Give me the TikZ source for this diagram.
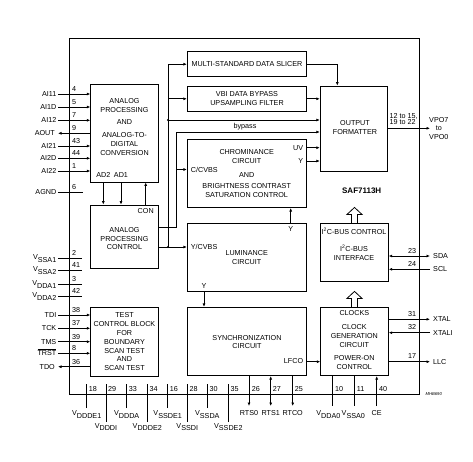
\documentclass[tikz,border=0pt]{standalone}
\usepackage{fontspec}
\setmainfont{Liberation Sans}
\usetikzlibrary{arrows.meta}
\newcommand{\Vsub}[1]{V\raisebox{-2.6pt}{#1}}

\begin{document}
\begin{tikzpicture}[x=1pt,y=-1pt,
  font=\fontsize{7.2}{8.8}\selectfont,
  blk/.style={draw,line width=0.8pt,inner sep=0pt,minimum width=67.6pt},
  wblk/.style={blk,minimum width=119.4pt},
  txt/.style={inner sep=0pt,align=center},
  lbl/.style={inner sep=0pt,anchor=base},
  pnum/.style={inner sep=0pt,anchor=base west},
  sig/.style={line width=0.8pt,-{Latex[length=3.5pt,width=3pt]}},
  dsig/.style={line width=0.8pt,{Latex[length=3.5pt,width=3pt]}-{Latex[length=3.5pt,width=3pt]}},
  wire/.style={line width=0.8pt}]
\useasboundingbox (0,0) rectangle (473,461);
% chip outline
\node[draw,line width=0.8pt,inner sep=0pt,minimum width=350pt,minimum height=356pt] (chip) at (244,216) {};
\node[font=\fontsize{8}{9}\selectfont\bfseries] (type) at (361.7,191) {SAF7113H};
\node[font=\fontsize{4.2}{5}\selectfont\itshape,inner sep=0pt] (code) at (433.7,394.3) {MHB690};
% blocks
\node[blk,minimum height=98pt] (afe) at (124.5,133) {};
\node[blk,minimum height=63pt] (apc) at (124.5,236.5) {};
\node[blk,minimum height=69pt] (tcb) at (124.5,341.5) {};
\node[wblk,minimum height=25pt] (dsl) at (247,64.2) {};
\node[wblk,minimum height=24.3pt] (vbi) at (247,98.8) {};
\node[wblk,minimum height=68.7pt] (chr) at (247,173.3) {};
\node[wblk,minimum height=68.7pt] (lum) at (247,257.3) {};
\node[wblk,minimum height=68.4pt] (syn) at (247,341.5) {};
\node[blk,minimum height=85pt] (ofm) at (354,128.5) {};
\node[blk,minimum height=57.7pt] (i2c) at (354.5,252.2) {};
\node[blk,minimum height=68.4pt] (clk) at (354.5,341.5) {};
% block texts
\node[txt] (tafe) at (124.5,126.8) {ANALOG\\PROCESSING\\[3.2pt]AND\\[4.6pt]ANALOG-TO-\\DIGITAL\\CONVERSION};
\node[lbl] (tad2) at (103.3,177.7) {AD2};
\node[lbl] (tad1) at (121,177.7) {AD1};
\node[lbl] (tcon) at (145.7,213.3) {CON};
\node[txt] (tapc) at (124.5,238.7) {ANALOG\\PROCESSING\\CONTROL};
\node[txt] (ttcb) at (124.5,341.8) {TEST\\CONTROL BLOCK\\FOR\\BOUNDARY\\SCAN TEST\\AND\\SCAN TEST};
\node[txt] (tdsl) at (247,64.4) {MULTI-STANDARD DATA SLICER};
\node[txt] (tvbi) at (247,98.8) {VBI DATA BYPASS\\UPSAMPLING FILTER};
\node[txt] (tchr) at (246.7,173.8) {CHROMINANCE\\CIRCUIT\\[4.5pt]AND\\[3pt]BRIGHTNESS CONTRAST\\SATURATION CONTROL};
\node[lbl,anchor=base west] (tccv) at (190.7,172) {C/CVBS};
\node[lbl,anchor=base east] (tuv) at (303.3,150) {UV};
\node[lbl,anchor=base east] (tyc) at (303.3,163.3) {Y};
\node[lbl,anchor=base west] (tycv) at (190.7,249.4) {Y/CVBS};
\node[txt] (tlum) at (246.7,257.8) {LUMINANCE\\CIRCUIT};
\node[lbl] (tyt) at (290.7,231.6) {Y};
\node[lbl] (tyb) at (204,288.8) {Y};
\node[txt] (tsyn) at (247,342) {SYNCHRONIZATION\\CIRCUIT};
\node[lbl,anchor=base east] (tlf) at (303.3,363.8) {LFCO};
\node[txt] (tofm) at (355,127.8) {OUTPUT\\FORMATTER};
\node[lbl] (ti2a) at (354,234.2) {I\textsuperscript{2}C-BUS CONTROL};
\node[lbl] (ti2b) at (354,251.8) {I\textsuperscript{2}C-BUS};
\node[lbl] (ti2c) at (354,260.8) {INTERFACE};
\node[lbl] (tclk) at (354.3,315.8) {CLOCKS};
\node[txt] (tcgc) at (354.3,347.2) {CLOCK\\GENERATION\\CIRCUIT\\[4.5pt]POWER-ON\\CONTROL};
% hollow bus arrows
\draw[wire] ([xshift=-3pt]i2c.north) -- ++(0,-8.5) -- ++(-4.5,0) -- ++(7.5,-7) -- ++(7.5,7) -- ++(-4.5,0) -- ++(0,8.5);
\draw[wire] ([xshift=-3pt]clk.north) -- ++(0,-8.5) -- ++(-4.5,0) -- ++(7.5,-7) -- ++(7.5,7) -- ++(-4.5,0) -- ++(0,8.5);
% internal connections
\coordinate (jY) at (168,247); %Y/CVBS branch
\coordinate (jF) at (168,120);
\coordinate (jC) at (176,227); %C/CVBS branch
\coordinate (jB) at (176,132); %bypass
\coordinate (cC) at (176,169.5);
\coordinate (jS) at (337.3,64.2);
\coordinate (cUV) at (310,147.7);
\coordinate (cYc) at (310,161);
\coordinate (cLF) at (310,361.7);
\draw[sig] (apc.east |- jY) -- (lum.west |- jY);
\draw[sig] (jY) |- (dsl.west);
\draw[sig] (jY |- vbi.west) -- (vbi.west);
\draw[sig] (jF) -- (ofm.west |- jF);
\fill (jY) circle (1.1pt);
\fill (jF) circle (1.1pt);
\draw[wire] (apc.east |- jC) -- (jC) -- (jB);
\draw[sig] (jB) -- (ofm.west |- jB);
\node[lbl] (tbyp) at (245,128) {bypass};
\draw[sig] (cC) -- (chr.west |- cC);
\draw[sig] (dsl.east) -- (jS) -- (jS |- ofm.north);
\draw[sig] (vbi.east) -- (ofm.west |- vbi.east);
\draw[sig] (chr.east |- cUV) -- (ofm.west |- cUV);
\draw[sig] (chr.east |- cYc) -- (ofm.west |- cYc);
\draw[sig] (tyt |- lum.north) -- (tyt |- chr.south);
\draw[sig] (tyb |- lum.south) -- (tyb |- syn.north);
\draw[sig] (syn.east |- cLF) -- (clk.west |- cLF);
\draw[sig] (tad2 |- afe.south) -- (tad2 |- apc.north);
\draw[sig] (tad1 |- afe.south) -- (tad1 |- apc.north);
\draw[sig] (tcon |- apc.north) -- (tcon |- afe.south);
% video output
\coordinate (cVPO) at (430,128.3);
\draw[sig] (ofm.east |- cVPO) -- (cVPO);
\node[lbl,anchor=base west] (n12) at (389.3,118) {12 to 15,};
\node[lbl,anchor=base west] (n19) at (389.3,124.7) {19 to 22};
\node[txt,font=\fontsize{7.2}{8.3}\selectfont] (pVPO) at (438.8,128.3) {VPO7\\to\\VPO0};
% right pins
\coordinate (cSDA) at (430,256);
\coordinate (cSCL) at (430,269.3);
\coordinate (cXTAL) at (430,319.3);
\coordinate (cXTALI) at (430,332.7);
\coordinate (cLLC) at (430,361.7);
\draw[dsig] (i2c.east |- cSDA) -- (cSDA);
\draw[sig] (cSCL) -- (i2c.east |- cSCL);
\draw[sig] (clk.east |- cXTAL) -- (cXTAL);
\draw[sig] (cXTALI) -- (clk.east |- cXTALI);
\draw[sig] (clk.east |- cLLC) -- (cLLC);
\node[lbl,anchor=base west] (pSDA) at (433,258.6) {SDA};
\node[lbl,anchor=base west] (pSCL) at (433,271.9) {SCL};
\node[lbl,anchor=base west] (pXTAL) at (433,321.9) {XTAL};
\node[lbl,anchor=base west] (pXTALI) at (433,335.3) {XTALI};
\node[lbl,anchor=base west] (pLLC) at (433,364.3) {LLC};
\node[lbl] (n23) at (412,253) {23};
\node[lbl] (n24) at (412,266.3) {24};
\node[lbl] (n31) at (412,316.3) {31};
\node[lbl] (n32) at (412,329.7) {32};
\node[lbl] (n17) at (412,358.7) {17};
% left pins
\coordinate (cAI11) at (58,94);
\coordinate (cAI1D) at (58,107);
\coordinate (cAI12) at (58,120.3);
\coordinate (cAOUT) at (58,133.3);
\coordinate (cAI21) at (58,146);
\coordinate (cAI2D) at (58,158.3);
\coordinate (cAI22) at (58,171);
\coordinate (cAGND) at (58,192.3);
\coordinate (cVSSA1) at (58,258.3);
\coordinate (cVSSA2) at (58,270);
\coordinate (cVDDA1) at (58,284);
\coordinate (cVDDA2) at (58,296);
\coordinate (cTDI) at (58,315);
\coordinate (cTCK) at (58,328.3);
\coordinate (cTMS) at (58,341.7);
\coordinate (cTRST) at (58,353.3);
\coordinate (cTDO) at (58,366.7);
\draw[sig] (cAI11) -- (afe.west |- cAI11);
\draw[sig] (cAI1D) -- (afe.west |- cAI1D);
\draw[sig] (cAI12) -- (afe.west |- cAI12);
\draw[sig] (afe.west |- cAOUT) -- (cAOUT);
\draw[sig] (cAI21) -- (afe.west |- cAI21);
\draw[sig] (cAI2D) -- (afe.west |- cAI2D);
\draw[sig] (cAI22) -- (afe.west |- cAI22);
\draw[wire] (cAGND) -- ++(24.7,0);
\draw[wire] (cVSSA1) -- ++(24,0);
\draw[wire] (cVSSA2) -- ++(24,0);
\draw[wire] (cVDDA1) -- ++(24,0);
\draw[wire] (cVDDA2) -- ++(24,0);
\draw[sig] (cTDI) -- (tcb.west |- cTDI);
\draw[sig] (cTCK) -- (tcb.west |- cTCK);
\draw[sig] (cTMS) -- (tcb.west |- cTMS);
\draw[sig] (cTRST) -- (tcb.west |- cTRST);
\draw[sig] (tcb.west |- cTDO) -- (cTDO);
\node[lbl,anchor=base east] (pAI11) at (56.5,96.6) {AI11};
\node[lbl,anchor=base east] (pAI1D) at (56.5,109.6) {AI1D};
\node[lbl,anchor=base east] (pAI12) at (56.5,122.9) {AI12};
\node[lbl,anchor=base east] (pAOUT) at (55,135.9) {AOUT};
\node[lbl,anchor=base east] (pAI21) at (56.5,148.6) {AI21};
\node[lbl,anchor=base east] (pAI2D) at (56.5,160.9) {AI2D};
\node[lbl,anchor=base east] (pAI22) at (56.5,173.6) {AI22};
\node[lbl,anchor=base east] (pAGND) at (56.5,194.9) {AGND};
\node[lbl,anchor=base east] (pVSSA1) at (56.5,259.7) {\Vsub{SSA1}};
\node[lbl,anchor=base east] (pVSSA2) at (56.5,271.4) {\Vsub{SSA2}};
\node[lbl,anchor=base east] (pVDDA1) at (56.5,285.4) {\Vsub{DDA1}};
\node[lbl,anchor=base east] (pVDDA2) at (56.5,297.4) {\Vsub{DDA2}};
\node[lbl,anchor=base east] (pTDI) at (56.5,317.6) {TDI};
\node[lbl,anchor=base east] (pTCK) at (56.5,330.9) {TCK};
\node[lbl,anchor=base east] (pTMS) at (56.5,344.3) {TMS};
\node[lbl,anchor=base east] (pTRST) at (56.5,355.9) {$\overline{\mbox{TRST}}$};
\node[lbl,anchor=base east] (pTDO) at (55,369.3) {TDO};
\node[pnum] (n4) at (72,91.5) {4};
\node[pnum] (n5) at (72,104.5) {5};
\node[pnum] (n7) at (72,117.8) {7};
\node[pnum] (n9) at (72,130.8) {9};
\node[pnum] (n43) at (72,143.5) {43};
\node[pnum] (n44) at (72,155.8) {44};
\node[pnum] (n1) at (72,168.5) {1};
\node[pnum] (n6) at (72,189.8) {6};
\node[pnum] (n2) at (72,255.8) {2};
\node[pnum] (n41) at (72,267.5) {41};
\node[pnum] (n3) at (72,281.5) {3};
\node[pnum] (n42) at (72,293.5) {42};
\node[pnum] (n38) at (72,312.5) {38};
\node[pnum] (n37) at (72,325.8) {37};
\node[pnum] (n39) at (72,339.2) {39};
\node[pnum] (n8) at (72,350.8) {8};
\node[pnum] (n36) at (72,364.2) {36};
% bottom supply pins
\coordinate (b18) at (86.7,408);
\coordinate (b29) at (106,421.7);
\coordinate (b33) at (126.7,408);
\coordinate (b34) at (147.3,421.7);
\coordinate (b16) at (167.7,408);
\coordinate (b28) at (187.3,421.7);
\coordinate (b30) at (207.3,408);
\coordinate (b35) at (228.3,421.7);
\draw[wire] (b18) -- ++(0,-24);
\draw[wire] (b29) -- ++(0,-37.7);
\draw[wire] (b33) -- ++(0,-24);
\draw[wire] (b34) -- ++(0,-37.7);
\draw[wire] (b16) -- ++(0,-24);
\draw[wire] (b28) -- ++(0,-37.7);
\draw[wire] (b30) -- ++(0,-24);
\draw[wire] (b35) -- ++(0,-37.7);
\node[below,inner sep=2.5pt] (pVDDDE1) at (b18) {\Vsub{DDDE1}};
\node[below,inner sep=1.5pt] (pVDDDI) at (b29) {\Vsub{DDDI}};
\node[below,inner sep=2.5pt] (pVDDDA) at (b33) {\Vsub{DDDA}};
\node[below,inner sep=1.5pt] (pVDDDE2) at (b34) {\Vsub{DDDE2}};
\node[below,inner sep=2.5pt] (pVSSDE1) at (b16) {\Vsub{SSDE1}};
\node[below,inner sep=1.5pt] (pVSSDI) at (b28) {\Vsub{SSDI}};
\node[below,inner sep=2.5pt] (pVSSDA) at (b30) {\Vsub{SSDA}};
\node[below,inner sep=1.5pt] (pVSSDE2) at (b35) {\Vsub{SSDE2}};
\node[pnum] (n18) at (88.7,391) {18};
\node[pnum] (n29) at (108,391) {29};
\node[pnum] (n33) at (128.7,391) {33};
\node[pnum] (n34) at (149.3,391) {34};
\node[pnum] (n16) at (169.7,391) {16};
\node[pnum] (n28) at (189.3,391) {28};
\node[pnum] (n30) at (209.3,391) {30};
\node[pnum] (n35) at (230.3,391) {35};
% real-time and clock pins
\coordinate (s26) at (249,406);
\coordinate (s27) at (270.7,406);
\coordinate (s25) at (292.7,406);
\coordinate (k10) at (332.3,406);
\coordinate (k11) at (354.3,406);
\coordinate (k40) at (376.7,406);
\draw[sig] (s26 |- syn.south) -- (s26);
\draw[dsig] (s27 |- syn.south) -- (s27);
\draw[sig] (s25 |- syn.south) -- (s25);
\draw[wire] (k10 |- clk.south) -- (k10);
\draw[wire] (k11 |- clk.south) -- (k11);
\draw[sig] (k40) -- (k40 |- clk.south);
\node[below,inner sep=4.5pt] (pRTS0) at (s26) {RTS0};
\node[below,inner sep=4.5pt] (pRTS1) at (s27) {RTS1};
\node[below,inner sep=4.5pt] (pRTCO) at (s25) {RTCO};
\node[below,inner sep=4.5pt,xshift=-4pt] (pVDDA0) at (k10) {\Vsub{DDA0}};
\node[below,inner sep=4.5pt,xshift=-1pt] (pVSSA0) at (k11) {\Vsub{SSA0}};
\node[below,inner sep=4.5pt] (pCE) at (k40) {CE};
\node[pnum] (n26) at (251.7,391) {26};
\node[pnum] (n27) at (272.7,391) {27};
\node[pnum] (n25) at (294.7,391) {25};
\node[pnum] (n10) at (335,391) {10};
\node[pnum] (n11) at (356.7,391) {11};
\node[pnum] (n40) at (379,391) {40};
\end{tikzpicture}
\end{document}
